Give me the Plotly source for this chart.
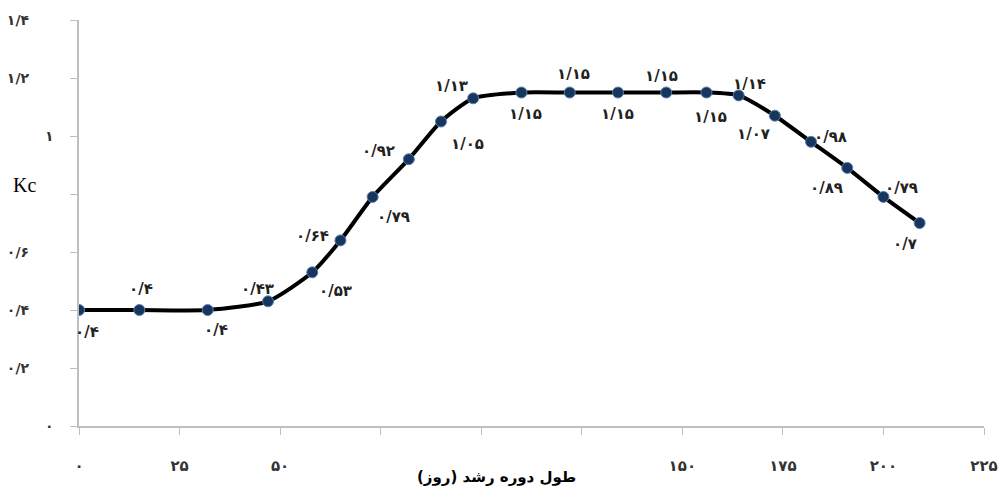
import plotly.graph_objects as go

# Data
days = [0, 15, 32, 47, 58, 65, 73, 82, 90, 98, 110, 122, 134, 146, 156, 164, 173, 182, 191, 200, 209]
kc = [0.40, 0.40, 0.40, 0.43, 0.53, 0.64, 0.79, 0.92, 1.05, 1.13, 1.15, 1.15, 1.15, 1.15, 1.15, 1.14, 1.07, 0.98, 0.89, 0.79, 0.70]
kc_labels = ["۰/۴", "۰/۴", "۰/۴", "۰/۴۳", "۰/۵۳", "۰/۶۴", "۰/۷۹", "۰/۹۲", "۱/۰۵", "۱/۱۳", "۱/۱۵",
             "۱/۱۵", "۱/۱۵", "۱/۱۵", "۱/۱۵", "۱/۱۴", "۱/۰۷", "۰/۹۸", "۰/۸۹", "۰/۷۹", "۰/۷"]
x_tickvals = [0, 25, 50, 75, 100, 125, 150, 175, 200, 225]
x_ticktext = ["۰", "۲۵", "۵۰", "", "", "", "۱۵۰", "۱۷۵", "۲۰۰", "۲۲۵"]
y_tickvals = [0, 0.2, 0.4, 0.6, 0.8, 1.0, 1.2, 1.4]
y_ticktext = ["۰", "۰/۲", "۰/۴", "۰/۶", "", "۱", "۱/۲", "۱/۴"]
x_title = "طول دوره رشد (روز)"
y_title = "Kc"

# label offsets (px) relative to each point: style only
label_dx = [8, 2, 8, -11, 23, -28, 21, -30, 26, -22, 4, 4, 0, -5, 4, 11, -21, 19, -21, 18, -15]
label_dy = [-22, 21, -20, 12, -19, 4, -20, 8, -22, 12, -21, 19, -21, 17, -24, 11, -18, 5, -20, 9, -21]

NB = "\u00a0"
y_ticktext_padded = [t if len(t) <= 1 else t + NB * 5 for t in y_ticktext]

W, H = 1008, 488
L, R, T, B = 79, 24, 20, 62
PW, PH = W - L - R, H - T - B

fig = go.Figure()
fig.add_trace(go.Scatter(
    x=days, y=kc, mode="lines+markers",
    line=dict(color="black", width=4, shape="spline", smoothing=0.6),
    marker=dict(size=11, color="#17365d", line=dict(color="#5b7fb0", width=1)),
    hoverinfo="skip", showlegend=False,
))

for xv, yv, t, dx, dy in zip(days, kc, kc_labels, label_dx, label_dy):
    fig.add_annotation(x=xv, y=yv, xref="x", yref="y", text=t, showarrow=False,
                       xshift=dx, yshift=dy, xanchor="center", yanchor="middle",
                       font=dict(family="DejaVu Sans", size=15, color="#222222", weight="bold"))

fig.add_annotation(x=(24 - L) / PW, y=(H - B - 185) / PH, xref="paper", yref="paper",
                   text=y_title, showarrow=False, xanchor="center", yanchor="middle",
                   bgcolor="white",
                   font=dict(family="Liberation Serif", size=20, color="black"))

fig.add_annotation(x=(496 - L) / PW, y=(H - B - 477) / PH, xref="paper", yref="paper",
                   text=x_title, showarrow=False, xanchor="center", yanchor="middle",
                   bgcolor="white",
                   font=dict(family="DejaVu Sans", size=15, color="black", weight="bold"))

fig.update_layout(
    width=W, height=H,
    margin=dict(l=L, r=R, t=T, b=B, autoexpand=False),
    paper_bgcolor="white", plot_bgcolor="white",
    xaxis=dict(range=[0, 225], tickvals=x_tickvals, ticktext=x_ticktext,
               showgrid=False, zeroline=False, showline=True, linecolor="#bfbfbf", linewidth=1.5,
               ticks="outside", ticklen=7, tickcolor="#bfbfbf", ticklabelstandoff=18,
               tickfont=dict(family="DejaVu Sans", size=15, color="#333333", weight="bold")),
    yaxis=dict(range=[0, 1.4], tickvals=y_tickvals, ticktext=y_ticktext_padded,
               showgrid=False, zeroline=False, showline=True, linecolor="#bfbfbf", linewidth=1.5,
               ticks="outside", ticklen=7, tickcolor="#bfbfbf", ticklabelstandoff=14,
               tickfont=dict(family="DejaVu Sans", size=14, color="#333333", weight="bold")),
)

fig.write_html("out.html", config={"displayModeBar": False},
               post_script="document.body.style.margin='0';document.body.style.overflow='hidden';")
